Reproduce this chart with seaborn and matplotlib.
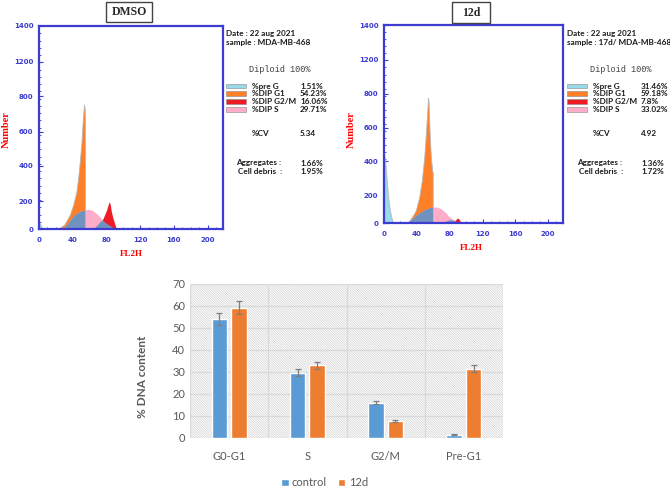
import matplotlib
matplotlib.use("Agg")
import matplotlib.pyplot as plt
from matplotlib.patches import Rectangle
from matplotlib.ticker import MultipleLocator
import numpy as np
import pandas as pd
import seaborn as sns

# ---- bar chart: % DNA content per cell-cycle phase ----
phases = ["G0-G1", "S", "G2/M", "Pre-G1"]
control_vals = [54.23, 29.71, 16.06, 1.51]
d12_vals = [59.18, 33.02, 7.8, 31.46]
control_err = [2.8, 1.5, 0.8, 0.3]
d12_err = [3.0, 1.7, 0.5, 1.6]

# ---- flow histograms (FL2H channel, count) ----
# DMSO
dmso_preg_x = [0, 1, 2, 3, 4, 5]
dmso_preg_y = [45, 40, 28, 15, 5, 0]
dmso_g1_x = [22.6, 30, 36.5, 40.5, 44.4, 46.4, 48.4, 50.4, 51.6, 53.2, 53.6, 54.4, 54.6]
dmso_g1_y = [0, 30, 97, 166, 258, 350, 465, 603, 718, 845, 856, 820, 0]
dmso_s_x = [28.6, 33, 38.5, 42, 46.4, 50, 54.4, 58.3, 61, 64.3, 67, 70.2, 74.2, 77, 80.2, 83, 86.1, 89, 92]
dmso_s_y = [0, 30, 74, 96, 115, 125, 131, 136, 133, 124, 112, 97, 69, 52, 39, 27, 16, 7, 0]
dmso_bump_x = [64, 68, 72, 75, 78, 81, 84, 87, 90, 92]
dmso_bump_y = [0, 22, 48, 62, 48, 35, 24, 13, 5, 0]
dmso_g2_x = [75, 76, 78, 80.2, 82, 83.3, 84.5, 86, 88, 89.7, 91, 92]
dmso_g2_y = [62, 73, 100, 131, 165, 189, 170, 116, 70, 39, 15, 3]
dmso_g1_end = 54.4

# 12d
d12_preg_x = [0, 1, 2, 3, 4, 5, 6, 7, 8, 9, 10, 11, 12]
d12_preg_y = [491, 450, 396, 330, 255, 190, 137, 100, 66, 40, 19, 8, 0]
d12_g1_x = [28.6, 32.7, 36, 38.8, 42.9, 46.1, 49, 51, 52.8, 53.5, 54.3, 55.5, 57.1, 58.8, 59.3, 59.4]
d12_g1_y = [0, 31, 60, 90, 184, 302, 467, 632, 797, 887, 863, 651, 462, 368, 360, 0]
d12_s_x = [26.5, 30, 34.7, 38, 42.9, 47, 51, 55, 59.3, 63.4, 66, 69.5, 72, 75.6, 78, 81.8, 85, 87.9, 91, 94]
d12_s_y = [0, 12, 31, 50, 71, 86, 99, 107, 113, 113, 109, 101, 88, 71, 52, 35, 22, 14, 6, 0]
d12_bump_x = [70, 74, 78, 80, 82, 85, 88, 91, 94]
d12_bump_y = [0, 10, 20, 24, 23, 18, 12, 6, 0]
d12_g2_x = [86, 88, 89.5, 91, 93, 94]
d12_g2_y = [14, 28, 35, 30, 12, 0]
d12_g1_end = 59.3

# side panel text
legend_labels = ["%pre G", "%DIP G1", "%DIP G2/M", "%DIP S"]
dmso_pct = ["1.51%", "54.23%", "16.06%", "29.71%"]
d12_pct = ["31.46%", "59.18%", "7.8%", "33.02%"]
dmso_extra = ["5.34", "1.66%", "1.95%"]
d12_extra = ["4.92", "1.36%", "1.72%"]

ytick_pos = [0, 193, 435, 672, 914, 1154, 1400]
ytick_lab = ["0", "200", "400", "600", "800", "1200", "1400"]

LBLUE, ORANGE, RED, PINK, STEEL = "#99d9ea", "#ff7f27", "#ed1c24", "#ffaec9", "#7092be"
AXBLUE = "#3c3cd0"

sns.set_style("white")
plt.rcParams["font.family"] = ["DejaVu Sans"]
plt.rcParams["hatch.linewidth"] = 0.5

W, H = 670, 487
fig = plt.figure(figsize=(W / 100, H / 100), dpi=100)


def rect(l, t, r, b):
    return [l / W, 1 - b / H, (r - l) / W, (b - t) / H]


def ftxt(x, y, s, **kw):
    fig.text(x / W, 1 - y / H, s, **kw)


def flow_panel(box, title, tbox, xlab_xy, ylab_xy, preg, g1, s, bump, g2, g1_end,
               tx, sample, pct, extra):
    ax = fig.add_axes(rect(*box))
    ax.fill_between(preg[0], preg[1], color=LBLUE, ec="#b8b8b8", lw=0.6)
    ax.fill_between(g1[0], g1[1], color=ORANGE, ec="#b8b8b8", lw=0.6)
    ax.fill_between(s[0], s[1], color=PINK, lw=0)
    ax.fill_between(g2[0], g2[1], color=RED, lw=0)
    sx, sy = np.array(s[0]), np.array(s[1])
    m = sx <= g1_end
    ax.fill_between(sx[m], sy[m], color=STEEL, lw=0)
    ax.fill_between(bump[0], bump[1], color=STEEL, lw=0)
    ax.set_xlim(0, 218)
    ax.set_ylim(0, 1400)
    ax.set_xticks([0, 40, 80, 120, 160, 200])
    ax.set_yticks(ytick_pos)
    ax.set_yticklabels(ytick_lab)
    ax.xaxis.set_minor_locator(MultipleLocator(10))
    ax.yaxis.set_minor_locator(MultipleLocator(50))
    ax.tick_params(which="both", direction="in", colors=AXBLUE, labelsize=5,
                   bottom=True, left=True)
    ax.tick_params(which="major", length=3, width=0.8)
    ax.tick_params(which="minor", length=1.5, width=0.6)
    ax.tick_params(axis="x", pad=6)
    ax.tick_params(axis="y", pad=4)
    for lab in ax.get_xticklabels() + ax.get_yticklabels():
        lab.set_fontweight("bold")
    for sp in ax.spines.values():
        sp.set_color(AXBLUE)
        sp.set_linewidth(1.6)
    # title box
    l, t, r, b = tbox
    fig.patches.append(Rectangle((l / W, 1 - b / H), (r - l) / W, (b - t) / H,
                                 transform=fig.transFigure, fc="white", ec="#444444", lw=1))
    ftxt((l + r) / 2, (t + b) / 2, title, ha="center", va="center",
         family="Liberation Serif", weight="bold", size=8.5)
    ftxt(xlab_xy[0], xlab_xy[1], "FL2H", ha="center", va="center", color="red",
         family="Liberation Serif", weight="bold", size=6.5)
    ftxt(ylab_xy[0], ylab_xy[1], "Number", ha="center", va="center", color="red",
         rotation=90, family="Liberation Serif", weight="bold", size=7.5)
    # side panel
    kw = dict(family="Lato", weight="bold", size=5.9, va="center", color="#1a1a1a")
    ftxt(tx, 33, "Date : 22 aug 2021", **kw)
    ftxt(tx, 43, sample, **kw)
    ftxt(tx + 54, 69, "Diploid 100%", ha="center", va="center",
         family="Liberation Mono", size=6.2, color="#404040")
    colors = [LBLUE, ORANGE, RED, PINK]
    for i, (lab, val, c) in enumerate(zip(legend_labels, pct, colors)):
        y = 86 + i * 7.8
        fig.patches.append(Rectangle((tx / W, 1 - (y + 2.3) / H), 20 / W, 4.6 / H,
                                     transform=fig.transFigure, fc=c, ec="#888888", lw=0.4))
        ftxt(tx + 26, y, lab, **kw)
        ftxt(tx + 74, y, val, **kw)
    ftxt(tx + 26, 134, "%CV", **kw)
    ftxt(tx + 74, 134, extra[0], **kw)
    ftxt(tx + 10, 163, "Aggregates :", **kw)
    ftxt(tx + 74, 163, extra[1], **kw)
    ftxt(tx + 12, 172, "Cell debris  :", **kw)
    ftxt(tx + 74, 172, extra[2], **kw)
    return ax


flow_panel((39, 26, 222.7, 229), "DMSO", (106, 2, 152, 22), (131, 254), (6, 130),
           (dmso_preg_x, dmso_preg_y), (dmso_g1_x, dmso_g1_y), (dmso_s_x, dmso_s_y),
           (dmso_bump_x, dmso_bump_y), (dmso_g2_x, dmso_g2_y), dmso_g1_end,
           226, "sample : MDA-MB-468", dmso_pct, dmso_extra)
flow_panel((384, 25, 563, 223), "12d", (452, 2, 490, 23), (471, 248), (351, 130),
           (d12_preg_x, d12_preg_y), (d12_g1_x, d12_g1_y), (d12_s_x, d12_s_y),
           (d12_bump_x, d12_bump_y), (d12_g2_x, d12_g2_y), d12_g1_end,
           567, "sample : 17d/ MDA-MB-468", d12_pct, d12_extra)

# ---- bar chart ----
BLUE, ORG = "#5b9bd5", "#ed7d31"
GRAY = "#595959"
df = pd.DataFrame({
    "phase": phases * 2,
    "group": ["control"] * 4 + ["12d"] * 4,
    "value": control_vals + d12_vals,
})
axb = fig.add_axes(rect(190, 284, 503, 438))
axb.add_patch(Rectangle((0, 0), 1, 1, transform=axb.transAxes, facecolor="white",
                        edgecolor="#d2d2d2", hatch="\\" * 14, lw=0.01, zorder=0.5))
sns.barplot(data=df, x="phase", y="value", hue="group", hue_order=["control", "12d"],
            palette=[BLUE, ORG], saturation=1, width=0.5, gap=0.2, errorbar=None,
            ax=axb, zorder=3)
for cont, errs in zip(axb.containers, [control_err, d12_err]):
    xs = [b.get_x() + b.get_width() / 2 for b in cont]
    ys = [b.get_height() for b in cont]
    axb.errorbar(xs, ys, yerr=errs, fmt="none", ecolor="#7f7f7f", elinewidth=0.9,
                 capsize=2.5, capthick=0.9, zorder=4)
axb.set_xlim(-0.5, 3.5)
axb.set_ylim(0, 70)
axb.set_yticks(range(0, 71, 10))
for yv in range(0, 71, 10):
    axb.axhline(yv, color="#d9d9d9", lw=0.9, zorder=1)
for xv in [-0.5, 0.5, 1.5, 2.5, 3.5]:
    axb.axvline(xv, color="#d9d9d9", lw=0.9, zorder=1)
for sp in axb.spines.values():
    sp.set_visible(False)
axb.tick_params(length=0, labelcolor=GRAY, labelsize=8)
axb.tick_params(axis="x", pad=9)
for lab in axb.get_xticklabels() + axb.get_yticklabels():
    lab.set_family("Lato")
axb.set_xlabel("")
axb.set_ylabel("% DNA content", color=GRAY, family="Lato", weight="bold", size=8.5)
axb.yaxis.set_label_coords(-0.135, 0.40)
axb.legend(loc="center", bbox_to_anchor=(0.43, -0.29), ncol=2, frameon=False,
           handlelength=0.65, handleheight=0.65, handletextpad=0.3, columnspacing=1.0,
           prop={"family": "Lato", "size": 8}, labelcolor=GRAY)

fig.savefig("out.png", dpi=100)
